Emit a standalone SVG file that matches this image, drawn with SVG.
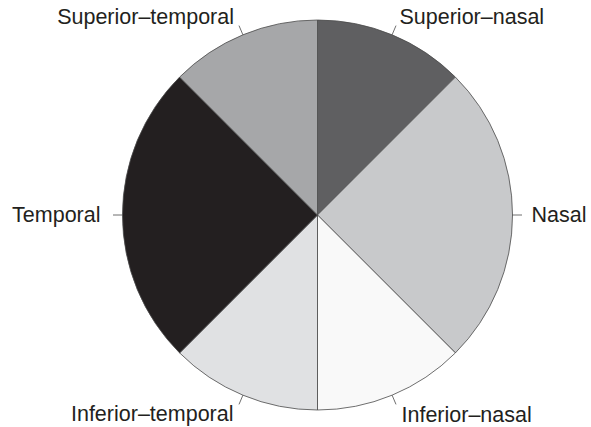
<svg xmlns="http://www.w3.org/2000/svg" width="591" height="427" viewBox="0 0 591 427">
<style>
.s{stroke:#4a4a4a;stroke-width:0.8;stroke-linejoin:round}
.t{stroke:#4a4a4a;stroke-width:0.8;fill:none}
text{font-family:"Liberation Sans",Arial,sans-serif;font-size:21.5px;fill:#231f20}
</style>
<rect width="591" height="427" fill="#ffffff"/>
<g id="superior-nasal">
<path class="s" fill="#5f5f61" d="M317.5,215 L317.5,20 A195,195 0 0 1 455.4,77.1 Z"/>
<text x="399.5" y="24">Superior–nasal</text>
</g>
<g id="nasal">
<path class="s" fill="#c8c9cb" d="M317.5,215 L455.4,77.1 A195,195 0 0 1 455.4,352.9 Z"/>
<text x="531.5" y="222">Nasal</text>
</g>
<g id="inferior-nasal">
<path class="s" fill="#f9f9f9" d="M317.5,215 L455.4,352.9 A195,195 0 0 1 317.5,410 Z"/>
<text x="401.5" y="421.5">Inferior–nasal</text>
</g>
<g id="inferior-temporal">
<path class="s" fill="#e0e1e3" d="M317.5,215 L317.5,410 A195,195 0 0 1 179.6,352.9 Z"/>
<text x="233.5" y="421" text-anchor="end">Inferior–temporal</text>
</g>
<g id="temporal">
<path class="s" fill="#231f20" d="M317.5,215 L179.6,352.9 A195,195 0 0 1 179.6,77.1 Z"/>
<text x="100.5" y="222" text-anchor="end">Temporal</text>
</g>
<g id="superior-temporal">
<path class="s" fill="#a6a7a9" d="M317.5,215 L179.6,77.1 A195,195 0 0 1 317.5,20 Z"/>
<text x="234" y="23.5" text-anchor="end">Superior–temporal</text>
</g>
<g id="connectors">
<line class="t" x1="392.1" y1="34.8" x2="396" y2="25.6"/>
<line class="t" x1="512.5" y1="215" x2="522" y2="215"/>
<line class="t" x1="392.1" y1="395.2" x2="396" y2="404.4"/>
<line class="t" x1="242.9" y1="395.2" x2="239" y2="404.4"/>
<line class="t" x1="122.5" y1="215" x2="113" y2="215"/>
<line class="t" x1="242.9" y1="34.8" x2="239" y2="25.6"/>
</g>
</svg>
